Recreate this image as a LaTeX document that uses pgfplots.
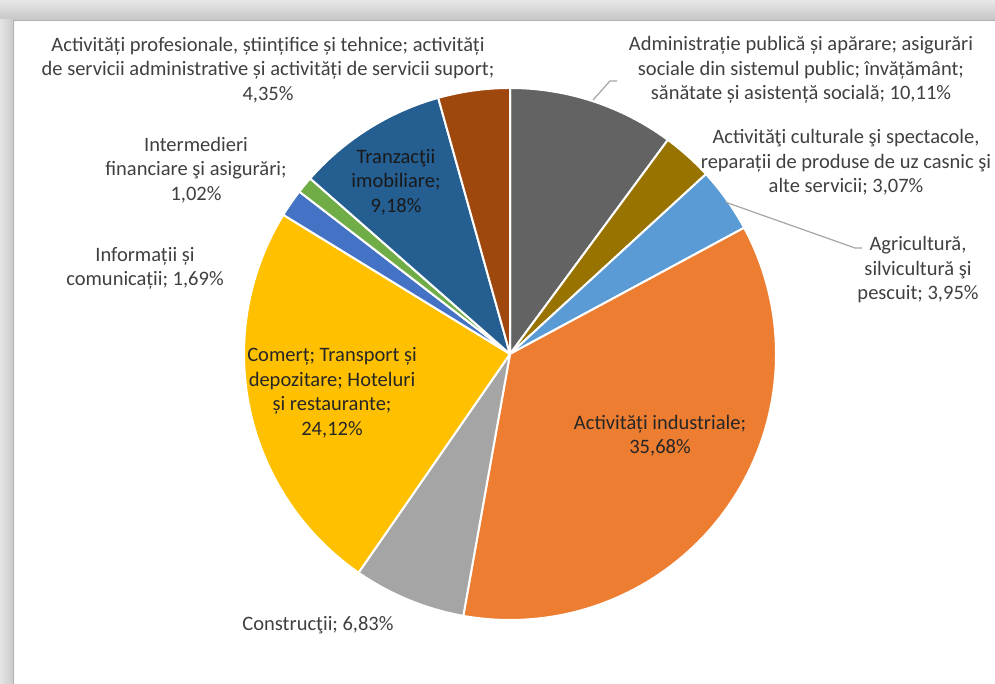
\documentclass[border=0pt]{standalone}
\usepackage{fontspec}
\setmainfont{Carlito}
\usepackage{pgfplots}
\pgfplotsset{compat=1.18}
\definecolor{cAdm}{HTML}{636363}
\definecolor{cCul}{HTML}{997300}
\definecolor{cAgr}{HTML}{5B9BD5}
\definecolor{cInd}{HTML}{ED7D31}
\definecolor{cCon}{HTML}{A5A5A5}
\definecolor{cCom}{HTML}{FFC000}
\definecolor{cInf}{HTML}{4472C4}
\definecolor{cFin}{HTML}{70AD47}
\definecolor{cImo}{HTML}{255E91}
\definecolor{cPro}{HTML}{9E480E}
\definecolor{lbl}{HTML}{404040}
\definecolor{lblin}{HTML}{262626}
\definecolor{lead}{HTML}{A6A6A6}
\tikzset{lab/.style={font=\fontsize{20.5bp}{24.5bp}\selectfont, align=center, text=lbl, inner sep=0pt},
  labin/.style={lab, text=lblin}}
\gdef\cum{0}
% #1 = share in percent, #2 = colour
\newcommand{\slice}[2]{%
  \pgfmathsetmacro{\sA}{90-3.6*(\cum+#1)}%
  \pgfmathsetmacro{\sB}{90-3.6*\cum}%
  \addplot[draw=white, line width=2bp, line join=round, fill=#2,
    domain=\sA:\sB, samples=120, variable=\t]
    ({510+266*cos(\t)},{330+266*sin(\t)}) -- (axis cs:510,330) -- cycle;
  \pgfmathsetmacro{\newcum}{\cum+#1}%
  \xdef\cum{\newcum}%
}
\begin{document}
\begin{tikzpicture}[x=1bp,y=1bp]
\useasboundingbox (0,0) rectangle (995,684);
\fill[white] (0,0) rectangle (995,684);
% frame
\shade[top color=gray!18, bottom color=gray!45] (0,664) rectangle (995,684);
\shade[left color=gray!20, right color=gray!42] (0,0) rectangle (14,664);
\draw[gray!60, line width=1.5bp] (13.5,0) -- (13.5,663.5) -- (995,663.5);
\begin{axis}[at={(0,0)}, anchor=south west, scale only axis,
  width=995bp, height=684bp, xmin=0, xmax=995, ymin=0, ymax=684,
  hide axis, clip=false]
\slice{10.11}{cAdm}
\slice{3.07}{cCul}
\slice{3.95}{cAgr}
\slice{35.68}{cInd}
\slice{6.83}{cCon}
\slice{24.12}{cCom}
\slice{1.69}{cInf}
\slice{1.02}{cFin}
\slice{9.18}{cImo}
\slice{4.35}{cPro}
\draw[lead, line width=1.2bp] (axis cs:593,584) -- (axis cs:610,603) -- (axis cs:617,603);
\draw[lead, line width=1.2bp] (axis cs:725,482) -- (axis cs:855,436) -- (axis cs:862,436);
\node[lab] at (axis cs:268,614) {Activități profesionale, științifice și tehnice; activități\\de servicii administrative și activități de servicii suport;\\4,35\%};
\node[lab] at (axis cs:801,614) {Administrație publică și apărare; asigurări\\sociale din sistemul public; învățământ;\\sănătate și asistență socială; 10,11\%};
\node[lab] at (axis cs:846,521.5) {Activităţi culturale şi spectacole,\\reparații de produse de uz casnic şi\\alte servicii; 3,07\%};
\node[lab] at (axis cs:918,414) {Agricultură,\\silvicultură şi\\pescuit; 3,95\%};
\node[labin] at (axis cs:660,248.5) {Activități industriale;\\35,68\%};
\node[lab] at (axis cs:318,59) {Construcţii; 6,83\%};
\node[labin] at (axis cs:332,291) {Comerț; Transport și\\depozitare; Hoteluri\\și restaurante;\\24,12\%};
\node[lab] at (axis cs:145,415.5) {Informații și\\comunicații; 1,69\%};
\node[lab] at (axis cs:196,514) {Intermedieri\\financiare şi asigurări;\\1,02\%};
\node[labin, text=black!90] at (axis cs:396,502) {Tranzacţii\\imobiliare;\\9,18\%};
\end{axis}
\end{tikzpicture}
\end{document}
